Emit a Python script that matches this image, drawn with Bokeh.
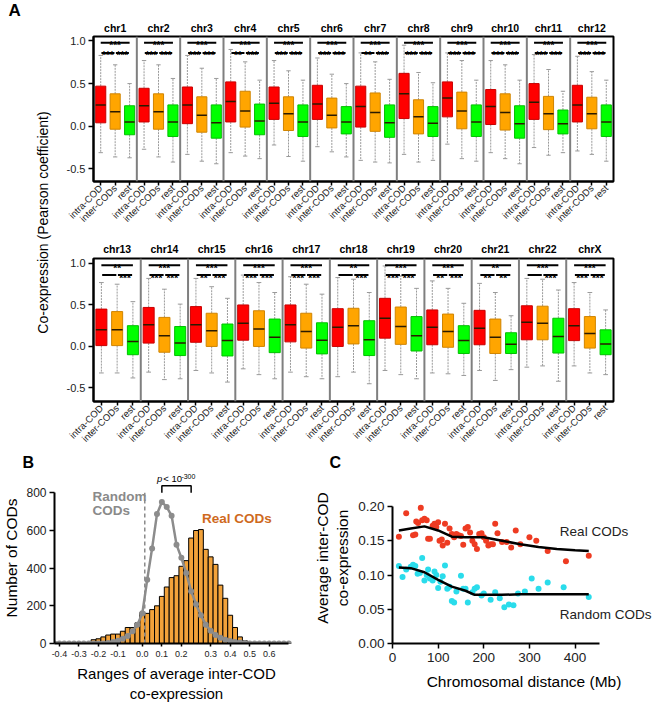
import math
from bokeh.plotting import figure
from bokeh.layouts import row, column
from bokeh.models import (ColumnDataSource, FixedTicker, Range1d, Label, LinearAxis,
                          Span, PrintfTickFormatter)
from bokeh.embed import file_html
from bokeh.resources import INLINE
from bokeh.core.properties import value

FONT = "Liberation Sans"
TXT = "#222222"

# ---------------- Panel A data ----------------
GROUPS = ["intra-COD", "inter-CODs", "rest"]
CHR_ROW1 = ["chr1", "chr2", "chr3", "chr4", "chr5", "chr6", "chr7", "chr8", "chr9", "chr10", "chr11", "chr12"]
CHR_ROW2 = ["chr13", "chr14", "chr15", "chr16", "chr17", "chr18", "chr19", "chr20", "chr21", "chr22", "chrX"]

# (lower whisker, Q1, median, Q3, upper whisker) per chromosome
INTRA = [(-0.31, 0.04, 0.25, 0.47, 0.83), (-0.27, 0.05, 0.24, 0.445, 0.77), (-0.33, 0.03, 0.25, 0.46, 0.83),
         (-0.31, 0.05, 0.29, 0.52, 0.90), (-0.22, 0.08, 0.27, 0.46, 0.77), (-0.24, 0.08, 0.26, 0.48, 0.80),
         (-0.40, -0.01, 0.23, 0.47, 0.86), (-0.33, 0.09, 0.38, 0.62, 0.95), (-0.21, 0.11, 0.33, 0.52, 0.86),
         (-0.31, 0.02, 0.23, 0.43, 0.77), (-0.25, 0.08, 0.28, 0.50, 0.84), (-0.29, 0.05, 0.25, 0.48, 0.82),
         (-0.32, 0.01, 0.20, 0.45, 0.77), (-0.31, 0.04, 0.26, 0.47, 0.82), (-0.29, 0.05, 0.26, 0.48, 0.82),
         (-0.27, 0.075, 0.28, 0.50, 0.86), (-0.31, 0.055, 0.26, 0.50, 0.84), (-0.365, 0.0, 0.23, 0.455, 0.83),
         (-0.29, 0.10, 0.34, 0.58, 0.97), (-0.32, 0.02, 0.23, 0.44, 0.79), (-0.29, 0.02, 0.22, 0.435, 0.76),
         (-0.25, 0.08, 0.29, 0.49, 0.82), (-0.235, 0.07, 0.25, 0.455, 0.77)]
INTER = [(-0.36, -0.035, 0.17, 0.38, 0.72), (-0.36, -0.035, 0.17, 0.38, 0.72), (-0.41, -0.07, 0.13, 0.345, 0.68),
         (-0.35, -0.01, 0.18, 0.41, 0.755), (-0.355, -0.05, 0.145, 0.345, 0.65), (-0.30, -0.02, 0.13, 0.33, 0.61),
         (-0.42, -0.06, 0.16, 0.39, 0.755), (-0.42, -0.09, 0.11, 0.31, 0.63), (-0.38, -0.03, 0.18, 0.40, 0.77),
         (-0.38, -0.045, 0.16, 0.38, 0.72), (-0.34, -0.04, 0.145, 0.35, 0.665), (-0.33, -0.03, 0.145, 0.34, 0.64),
         (-0.32, 0.01, 0.20, 0.42, 0.75), (-0.40, -0.07, 0.13, 0.35, 0.69), (-0.32, 0.0, 0.19, 0.40, 0.72),
         (-0.34, 0.0, 0.21, 0.43, 0.77), (-0.365, -0.02, 0.18, 0.40, 0.75), (-0.31, 0.03, 0.25, 0.46, 0.81),
         (-0.34, 0.025, 0.24, 0.475, 0.85), (-0.33, -0.01, 0.18, 0.39, 0.70), (-0.41, -0.085, 0.11, 0.33, 0.65),
         (-0.235, 0.08, 0.28, 0.485, 0.81), (-0.32, -0.02, 0.155, 0.36, 0.65)]
REST = [(-0.37, -0.10, 0.05, 0.24, 0.50), (-0.42, -0.12, 0.05, 0.25, 0.56), (-0.44, -0.14, 0.04, 0.25, 0.56),
        (-0.38, -0.10, 0.06, 0.26, 0.54), (-0.41, -0.12, 0.05, 0.25, 0.54), (-0.36, -0.09, 0.05, 0.23, 0.50),
        (-0.43, -0.13, 0.04, 0.25, 0.55), (-0.40, -0.12, 0.035, 0.23, 0.51), (-0.41, -0.12, 0.05, 0.25, 0.54),
        (-0.44, -0.14, 0.03, 0.24, 0.54), (-0.31, -0.09, 0.03, 0.19, 0.41), (-0.41, -0.12, 0.05, 0.25, 0.54),
        (-0.38, -0.10, 0.06, 0.25, 0.54), (-0.39, -0.11, 0.04, 0.24, 0.51), (-0.43, -0.115, 0.07, 0.27, 0.58),
        (-0.39, -0.075, 0.11, 0.33, 0.65), (-0.39, -0.09, 0.075, 0.285, 0.63), (-0.45, -0.11, 0.08, 0.31, 0.65),
        (-0.39, -0.055, 0.13, 0.36, 0.70), (-0.35, -0.085, 0.07, 0.25, 0.52), (-0.28, -0.085, 0.025, 0.165, 0.37),
        (-0.42, -0.08, 0.12, 0.34, 0.68), (-0.34, -0.10, 0.03, 0.20, 0.44)]

SIG_TOP = ["***"] * 12 + ["**", "***", "***", "***", "***", "**", "***", "***", "**", "***", "***"]
SIG_LEFT = ["***", "***", "***", "**", "***", "***", "**", "***", "***", "***", "***", "***",
            "", "***", "**", "***", "***", "", "***", "**", "**", "", "***"]
SIG_RIGHT = ["***"] * 12 + ["***", "***", "***", "***", "***", "***", "***", "***", "**", "***", "***"]
SIG_LEVELS = [0.98, 0.86]
Y_TICKS_A = [-0.5, 0.0, 0.5, 1.0]

FILL = ["#FF0000", "#FFA500", "#00FF00"]
EDGE = ["#C80000", "#D08400", "#00C000"]

# ---------------- Panel B data ----------------
BIN_IDX = list(range(49))
RANDOM_COUNTS = [0, 0, 0, 0, 0, 0, 0, 0, 0, 0, 0, 3, 8, 15, 25, 40, 65, 100, 160, 339, 505, 687, 751, 725,
                 678, 525, 455, 374, 278, 209, 150, 100, 68, 45, 30, 20, 13, 8, 5, 3, 0, 0, 0, 0, 0, 0, 0, 0, 0]
REAL_COUNTS = [0, 0, 0, 0, 0, 0, 0, 0, 20, 25, 35, 45, 50, 50, 65, 85, 85, 110, 165, 160, 180, 200, 250,
               300, 350, 360, 410, 440, 560, 600, 605, 500, 460, 420, 310, 240, 150, 85, 35, 15, 5, 0, 0, 0, 0, 0, 0, 0, 0]
B_TICK_POS = [1, 5, 9, 13, 18, 22, 26, 32, 36, 40, 44]
B_TICK_LABELS = ["-0.4", "-0.3", "-0.2", "-0.1", "0.0", "0.1", "0.2", "0.3", "0.4", "0.5", "0.6"]
B_ZERO_POS = 18.5
B_BRACKET = [22, 28]
B_Y_TICKS = [0, 200, 400, 600, 800]

# ---------------- Panel C data ----------------
REAL_X = [14, 30, 45, 50, 52, 56, 62, 65, 70, 75, 78, 82, 88, 92, 96, 100, 103, 108, 110, 115, 120, 125, 130,
          135, 140, 145, 150, 155, 160, 165, 170, 175, 180, 185, 190, 195, 200, 205, 210, 215, 220, 225, 230,
          240, 250, 260, 270, 280, 300, 315, 340, 380, 430]
REAL_Y = [0.156, 0.19, 0.158, 0.159, 0.178, 0.176, 0.198, 0.18, 0.182, 0.18, 0.153, 0.153, 0.172, 0.175, 0.17,
          0.177, 0.15, 0.152, 0.143, 0.175, 0.147, 0.168, 0.16, 0.155, 0.16, 0.158, 0.157, 0.144, 0.168, 0.17,
          0.162, 0.15, 0.145, 0.138, 0.16, 0.161, 0.155, 0.15, 0.143, 0.145, 0.145, 0.175, 0.161, 0.148, 0.148,
          0.14, 0.165, 0.145, 0.155, 0.15, 0.135, 0.12, 0.128]
RAND_X = [14, 22, 30, 40, 45, 50, 55, 60, 65, 70, 75, 78, 82, 88, 92, 96, 100, 105, 110, 115, 120, 125, 130,
          135, 140, 150, 155, 160, 165, 175, 180, 185, 195, 200, 215, 225, 235, 245, 255, 265, 275, 290, 305,
          320, 340, 375, 430]
RAND_Y = [0.113, 0.097, 0.108, 0.112, 0.115, 0.113, 0.102, 0.103, 0.125, 0.092, 0.1, 0.108, 0.095, 0.092, 0.105,
          0.1, 0.081, 0.09, 0.098, 0.114, 0.08, 0.083, 0.062, 0.06, 0.076, 0.099, 0.08, 0.08, 0.06, 0.075, 0.08,
          0.082, 0.07, 0.073, 0.064, 0.075, 0.066, 0.053, 0.057, 0.056, 0.073, 0.076, 0.095, 0.08, 0.089, 0.082,
          0.068]
REAL_FIT_X = [14, 40, 70, 100, 130, 160, 200, 240, 280, 320, 360, 400, 430]
REAL_FIT_Y = [0.165, 0.168, 0.171, 0.165, 0.156, 0.155, 0.155, 0.150, 0.145, 0.141, 0.138, 0.136, 0.135]
RAND_FIT_X = [14, 40, 70, 100, 130, 160, 180, 200, 240, 280, 320, 360, 400, 430]
RAND_FIT_Y = [0.111, 0.110, 0.104, 0.093, 0.083, 0.077, 0.071, 0.071, 0.071, 0.072, 0.072, 0.072, 0.072, 0.072]
C_X_TICKS = [0, 100, 200, 300, 400]
C_Y_TICKS = [0.0, 0.05, 0.10, 0.15, 0.20]


def base_fig(width, height, xr, yr, mb, **kw):
    p = figure(width=width, height=height, x_range=xr, y_range=yr, output_backend="svg",
               toolbar_location=None, min_border_left=mb[0], min_border_right=mb[1],
               min_border_top=mb[2], min_border_bottom=mb[3], **kw)
    p.grid.visible = False
    p.outline_line_color = None
    p.background_fill_color = "white"
    p.border_fill_color = "white"
    return p


def text_fig(width, height):
    p = figure(width=width, height=height, x_range=Range1d(0, width), y_range=Range1d(height, 0),
               output_backend="svg", toolbar_location=None, x_axis_type=None, y_axis_type=None,
               min_border=0, title=None)
    p.grid.visible = False
    p.outline_line_color = None
    return p


def style_axis(ax, size, tick_out=5, lw=2):
    ax.axis_line_width = lw
    ax.axis_line_color = "black"
    ax.major_tick_line_color = "black"
    ax.major_tick_line_width = 1.5
    ax.major_tick_out = tick_out
    ax.major_tick_in = 0
    ax.minor_tick_line_color = None
    ax.major_label_text_font = FONT
    ax.major_label_text_font_size = size
    ax.major_label_text_color = TXT
    ax.axis_label_text_font = FONT
    ax.axis_label_text_font_style = "normal"
    ax.axis_label_text_color = "black"


def label(x, y, text, size, style="normal", color="black", align="left", angle=0.0):
    return Label(x=x, y=y, text=text, text_font=FONT, text_font_size=size, text_font_style=style,
                 text_color=color, text_align=align, text_baseline="middle", angle=angle)


def box_row(names, off, width, height, yr, mb, name_standoff):
    n = len(names)
    p = base_fig(width, height, Range1d(-0.5, 3 * n - 0.5), Range1d(*yr), mb)
    p.outline_line_color = "black"
    p.outline_line_width = 2
    d = dict(x=[], lo=[], q1=[], md=[], q3=[], hi=[], fc=[], lc=[])
    for i in range(n):
        for g, stat in enumerate((INTRA, INTER, REST)):
            lo, q1, md, q3, hi = stat[off + i]
            d["x"].append(3 * i + g)
            for k, v in zip(("lo", "q1", "md", "q3", "hi"), (lo, q1, md, q3, hi)):
                d[k].append(v)
            d["fc"].append(FILL[g])
            d["lc"].append(EDGE[g])
    d["xl"] = [x - 0.35 for x in d["x"]]
    d["xr"] = [x + 0.35 for x in d["x"]]
    d["cl"] = [x - 0.15 for x in d["x"]]
    d["cr"] = [x + 0.15 for x in d["x"]]
    src = ColumnDataSource(d)
    p.segment(x0="x", x1="x", y0="q3", y1="hi", source=src, line_color="#9a9a9a", line_width=1, line_dash="2 1")
    p.segment(x0="x", x1="x", y0="q1", y1="lo", source=src, line_color="#9a9a9a", line_width=1, line_dash="2 1")
    p.segment(x0="cl", x1="cr", y0="hi", y1="hi", source=src, line_color="#9a9a9a", line_width=1)
    p.segment(x0="cl", x1="cr", y0="lo", y1="lo", source=src, line_color="#9a9a9a", line_width=1)
    p.vbar(x="x", width=0.7, bottom="q1", top="q3", source=src, fill_color="fc", line_color="lc", line_width=1)
    p.segment(x0="xl", x1="xr", y0="md", y1="md", source=src, line_color="#2a1a00", line_width=1.5)
    for k in range(1, n):
        p.add_layout(Span(location=3 * k - 0.5, dimension="height", line_color="#7f7f7f", line_width=2))
    # significance
    sx0, sx1, sy, tx, ty, tt = [], [], [], [], [], []
    for i in range(n):
        b = 3 * i
        sx0 += [b, b + 0.05, b + 1.05]
        sx1 += [b + 2, b + 0.95, b + 1.95]
        sy += [SIG_LEVELS[0], SIG_LEVELS[1], SIG_LEVELS[1]]
        for xx, yy, t in ((b + 1, SIG_LEVELS[0], SIG_TOP[off + i]), (b + 0.5, SIG_LEVELS[1], SIG_LEFT[off + i]),
                          (b + 1.5, SIG_LEVELS[1], SIG_RIGHT[off + i])):
            if t:
                tx.append(xx)
                ty.append(yy)
                tt.append(t)
    p.segment(x0=sx0, x1=sx1, y0=sy, y1=sy, line_color="black", line_width=2)
    p.text(x=tx, y=ty, text=tt, text_font=value(FONT), text_font_style="bold", text_font_size="10px",
           text_align="center", text_baseline="alphabetic", y_offset=3, text_color="black")
    # axes
    bottom_ax = p.below[0]
    bottom_ax.ticker = FixedTicker(ticks=list(range(3 * n)))
    bottom_ax.major_label_overrides = {i: GROUPS[i % 3] for i in range(3 * n)}
    bottom_ax.major_label_orientation = math.pi / 4
    bottom_ax.major_label_standoff = 1
    style_axis(bottom_ax, "9.5px", tick_out=4)
    left_ax = p.left[0]
    left_ax.ticker = FixedTicker(ticks=Y_TICKS_A)
    left_ax.formatter = PrintfTickFormatter(format="%.1f")
    left_ax.major_label_standoff = 3
    style_axis(left_ax, "11px", tick_out=5)
    # chromosome names on an axis above the frame
    top = LinearAxis(ticker=FixedTicker(ticks=[3 * i + 1 for i in range(n)]))
    top.major_label_overrides = {3 * i + 1: names[i] for i in range(n)}
    top.axis_line_color = None
    top.major_tick_line_color = None
    top.minor_tick_line_color = None
    top.major_tick_out = 0
    top.major_tick_in = 0
    top.major_label_standoff = name_standoff
    top.major_label_text_font = FONT
    top.major_label_text_font_style = "bold"
    top.major_label_text_font_size = "10.5px"
    top.major_label_text_color = "black"
    p.add_layout(top, "above")
    return p


TOTAL_W = 655

# ---- Panel A label column ----
A_H1, A_H2 = 236, 214
LA_W = 56
FA_W = TOTAL_W - LA_W
la = text_fig(LA_W, A_H1 + A_H2)
la.add_layout(label(8, 10, "A", "17px", "bold"))
la.add_layout(label(42, 222, "Co-expression (Pearson coefficient)", "14px", align="center", angle=math.pi / 2))

fa1 = box_row(CHR_ROW1, 0, FA_W, A_H1, (-0.648, 1.052), (35, 1, 36, A_H1 - 181), 3)
fa2 = box_row(CHR_ROW2, 12, FA_W, A_H2, (-0.664, 1.06), (37, 42, 22, A_H2 - 168), 4)

# ---- strip with panel letters B and C ----
STRIP_H = 22
strip = text_fig(TOTAL_W, STRIP_H)
strip.add_layout(label(22, 11.5, "B", "16px", "bold"))
strip.add_layout(label(329, 11.5, "C", "16px", "bold"))

# ---- Panel B ----
B_H = 707 - A_H1 - A_H2 - STRIP_H
B_W = 310
B_BOTTOM = 174
BPY = (B_BOTTOM - 20.7) / 800
B_YEND = B_BOTTOM / BPY
fb = base_fig(B_W, B_H, Range1d(0, 50), Range1d(0, B_YEND), (48, 12, 0, B_H - B_BOTTOM))
BPX = (B_W - 48 - 12) / 50


def bx(px):
    return (px - 48) / BPX


def by(py):
    return (B_BOTTOM - py) / BPY


fb.vbar(x=BIN_IDX, top=REAL_COUNTS, width=1.0, fill_color="#F2A23A", line_color="black", line_width=1)
fb.segment(x0=[B_ZERO_POS], x1=[B_ZERO_POS], y0=[0], y1=[B_Y_TICKS[-1]], line_color="#8c8c8c",
           line_width=1.5, line_dash="4 3")
fb.line(BIN_IDX, RANDOM_COUNTS, line_color="#8c8c8c", line_width=2.5)
fb.scatter(BIN_IDX, RANDOM_COUNTS, size=6, fill_color="#8c8c8c", line_color=None)
ytop = by(13.5)
fb.multi_line(xs=[[B_BRACKET[0], B_BRACKET[0], B_BRACKET[1], B_BRACKET[1]]],
              ys=[[B_Y_TICKS[-1], ytop, ytop, B_Y_TICKS[-1]]], line_color="black", line_width=1.5)
fb.add_layout(label(bx(153), by(6.5), "p", "9.5px", "italic"))
fb.add_layout(label(bx(159.5), by(6.5), "< 10", "9.5px"))
fb.add_layout(label(bx(178), by(4.5), "-300", "7px"))
fb.add_layout(label(bx(87), by(24), "Random", "13.5px", "bold", "#8a8a8a"))
fb.add_layout(label(bx(87), by(39), "CODs", "13.5px", "bold", "#8a8a8a"))
fb.add_layout(label(bx(199), by(46.7), "Real CODs", "13.5px", "bold", "#CF6A1E"))
fb.xaxis.ticker = FixedTicker(ticks=B_TICK_POS)
fb.xaxis.major_label_overrides = dict(zip(B_TICK_POS, B_TICK_LABELS))
fb.xaxis.bounds = (0, 48)
fb.xaxis.major_label_standoff = 4
fb.xaxis.axis_label = "Ranges of average inter-COD\nco-expression"
fb.xaxis.axis_label_standoff = 5
fb.xaxis.axis_label_text_font_size = "15px"
style_axis(fb.xaxis[0], "9px", tick_out=3)
fb.yaxis.ticker = FixedTicker(ticks=B_Y_TICKS)
fb.yaxis.bounds = (0, 800)
fb.yaxis.major_label_standoff = 3
fb.yaxis.axis_label = "Number of CODs"
fb.yaxis.axis_label_standoff = 3
fb.yaxis.axis_label_text_font_size = "15.5px"
style_axis(fb.yaxis[0], "12px", tick_out=5)

# ---- Panel C ----
C_W = TOTAL_W - B_W
C_LEFT = 81
C_BOTTOM = 171
CPX = 208 / 454
CPY = (C_BOTTOM - 34) / 0.2
C_YEND = C_BOTTOM / CPY
C_XEND = (C_W - C_LEFT) / CPX
fc = base_fig(C_W, B_H, Range1d(0, C_XEND), Range1d(0, C_YEND), (C_LEFT, 0, 0, B_H - C_BOTTOM))


def cx(px):
    return (px - C_LEFT) / CPX


def cy(py):
    return (C_BOTTOM - py) / CPY


fc.scatter(REAL_X, REAL_Y, size=6, fill_color="#EE3B22", line_color=None)
fc.scatter(RAND_X, RAND_Y, size=6, fill_color="#2ADCEB", line_color=None)
fc.line(REAL_FIT_X, REAL_FIT_Y, line_color="black", line_width=2.5)
fc.line(RAND_FIT_X, RAND_FIT_Y, line_color="black", line_width=2.5)
fc.add_layout(label(cx(249), cy(59), "Real CODs", "13.5px", color=TXT))
fc.add_layout(label(cx(249), cy(142), "Random CODs", "13.5px", color=TXT))
fc.xaxis.ticker = FixedTicker(ticks=C_X_TICKS)
fc.xaxis.bounds = (0, 454)
fc.xaxis.major_label_standoff = 4
fc.xaxis.axis_label = "Chromosomal distance (Mb)"
fc.xaxis.axis_label_standoff = 8
fc.xaxis.axis_label_text_font_size = "15.5px"
style_axis(fc.xaxis[0], "13.5px", tick_out=5)
fc.yaxis.ticker = FixedTicker(ticks=C_Y_TICKS)
fc.yaxis.bounds = (0, 0.2)
fc.yaxis.formatter = PrintfTickFormatter(format="%.2f")
fc.yaxis.major_label_standoff = 3
fc.yaxis.axis_label = "Average inter-COD\nco-expression"
fc.yaxis.axis_label_standoff = 4
fc.yaxis.axis_label_text_font_size = "15.5px"
style_axis(fc.yaxis[0], "13.5px", tick_out=5)

layout = column(row(la, column(fa1, fa2)), strip, row(fb, fc))
open("out.html", "w").write(file_html(layout, INLINE))
